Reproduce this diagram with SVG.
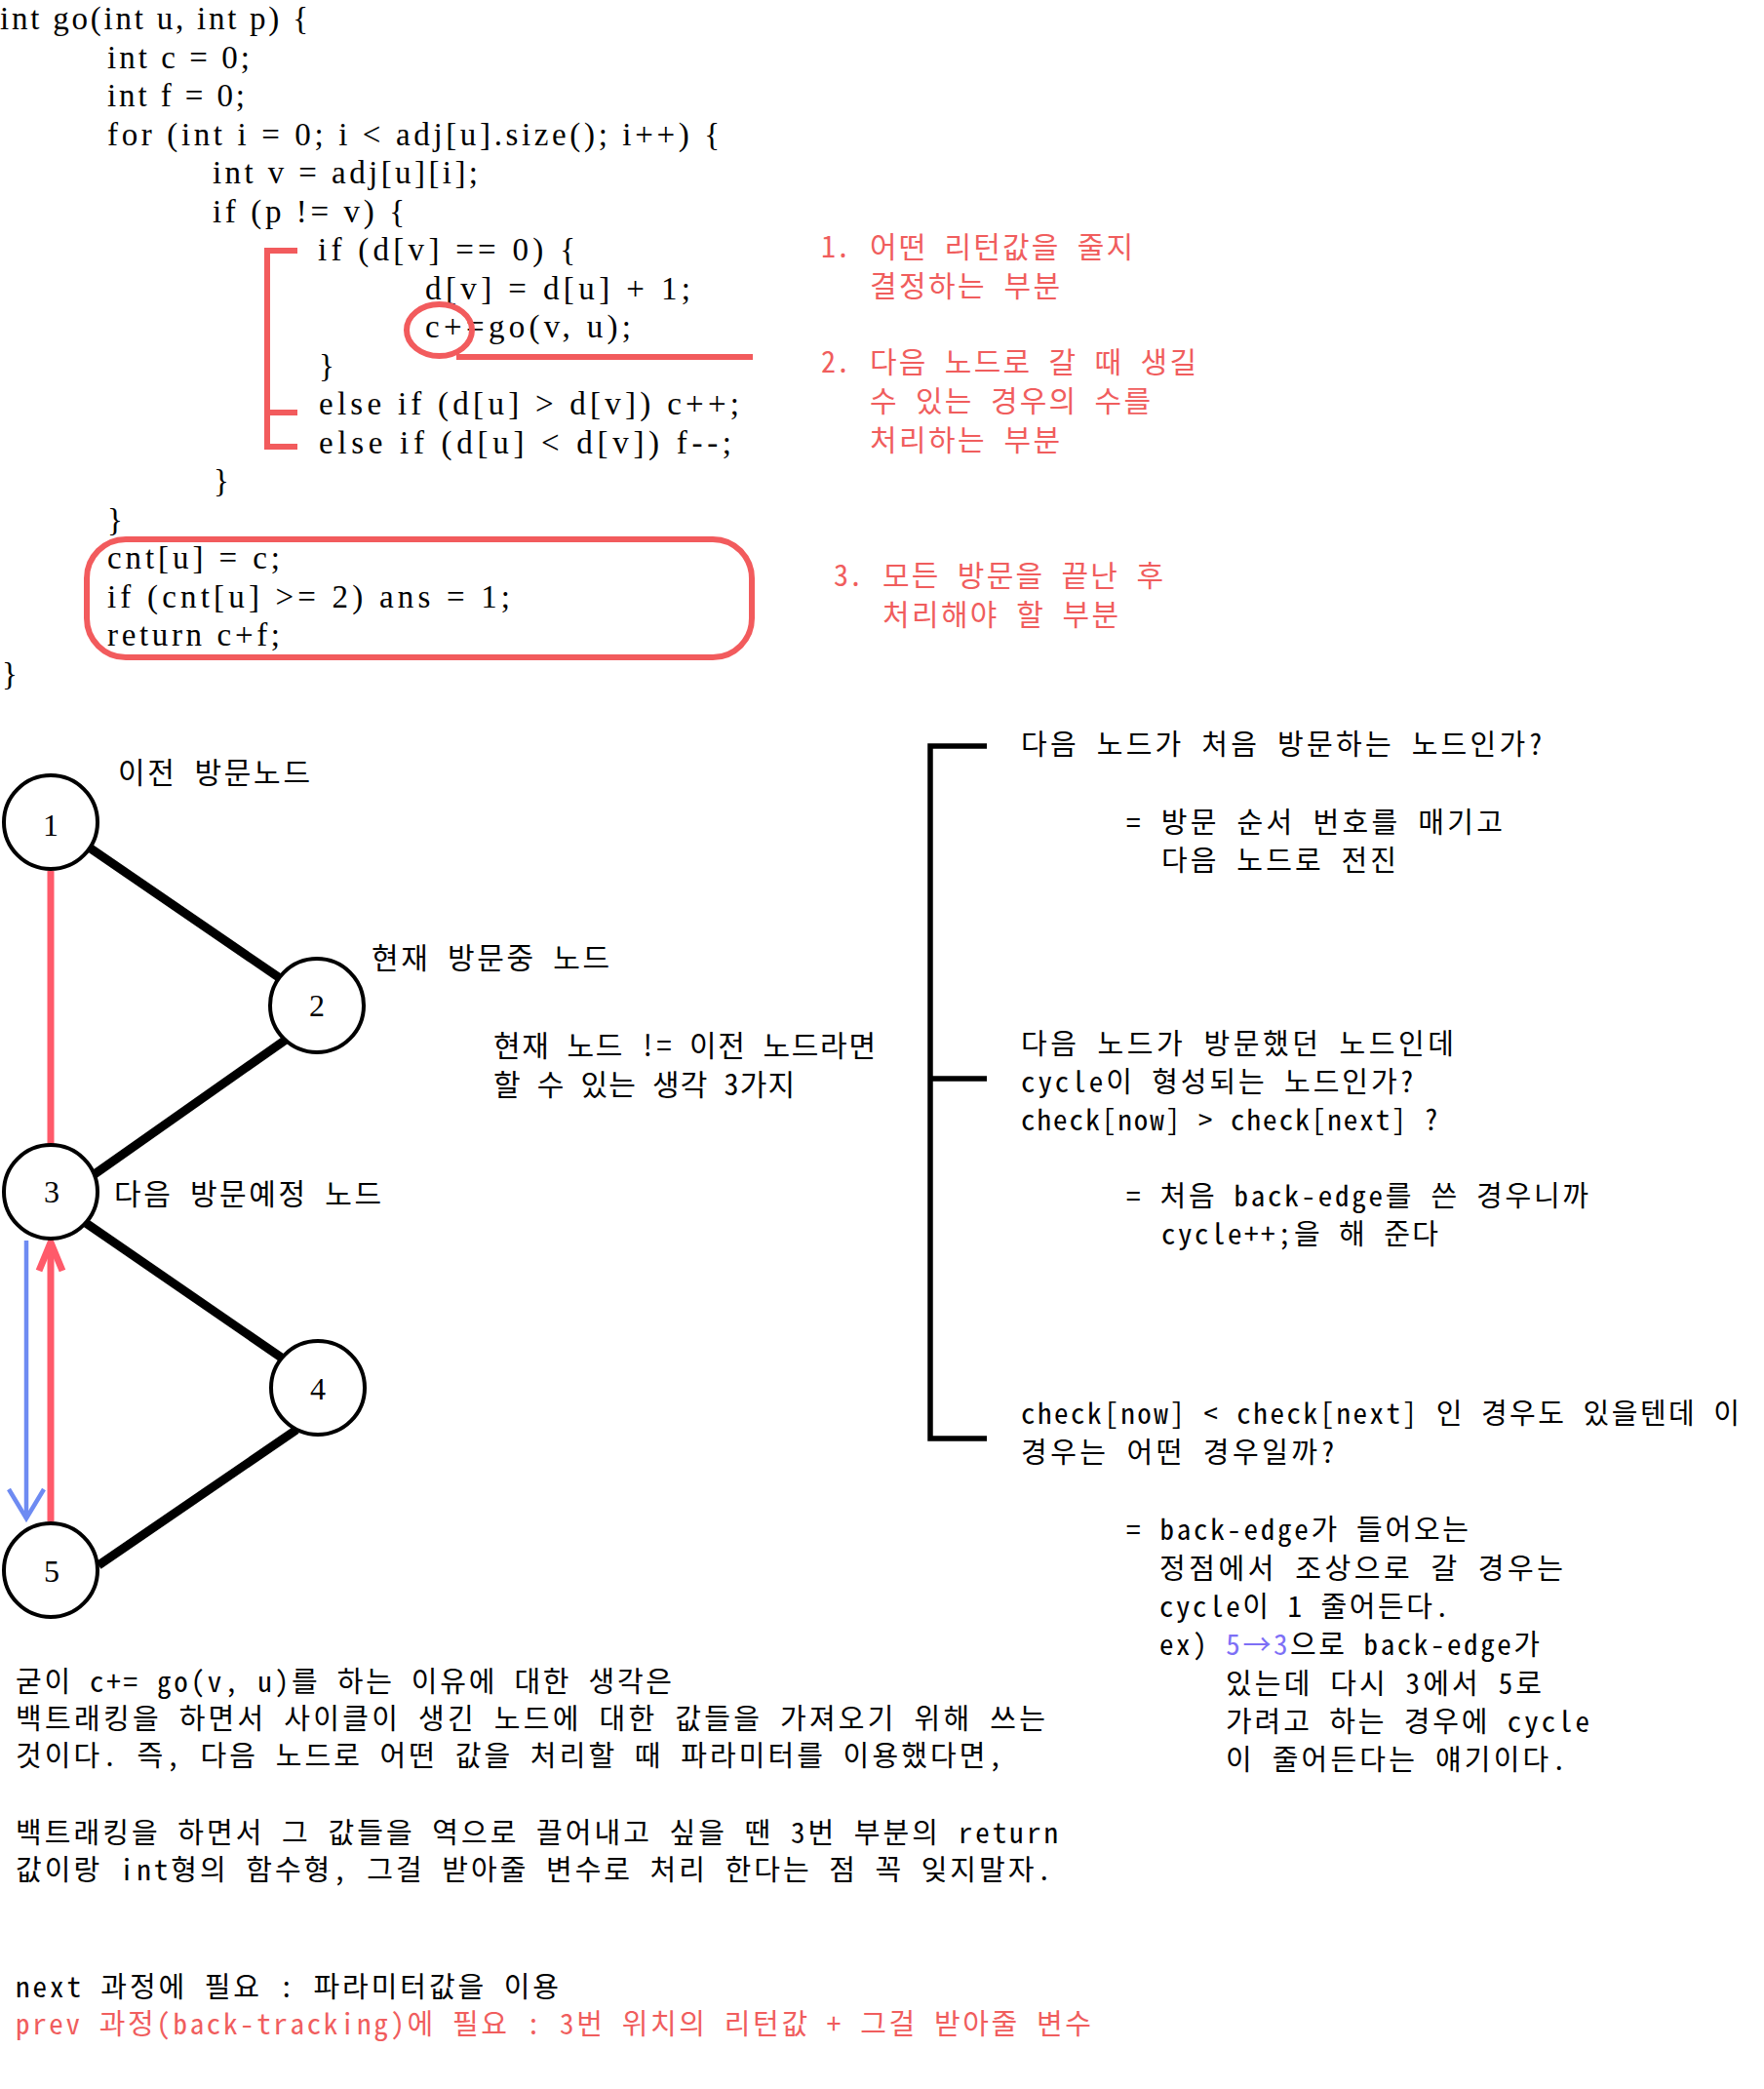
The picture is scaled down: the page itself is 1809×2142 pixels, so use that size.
<svg xmlns="http://www.w3.org/2000/svg" width="1809" height="2142" viewBox="0 0 1809 2142">
<style>
.code{font-family:"Liberation Serif","Times New Roman",serif;font-size:33px;fill:#000}
.ko{font-family:"Noto Sans Mono CJK KR","DejaVu Sans Mono","Noto Sans CJK KR",monospace;font-size:29px;fill:#000}
.big{font-size:30px}
.red{fill:#f05d5d}
.blue{fill:#7d6ff6}
.mark{fill:none;stroke:#f25b5d;stroke-width:6}
.edge{stroke:#000;stroke-width:9;fill:none}
.node circle{fill:#fff;stroke:#000;stroke-width:4}
.num{font-family:"Liberation Serif","Times New Roman",serif;font-size:32px;text-anchor:middle;fill:#000}
.brk{fill:none;stroke:#000;stroke-width:5.5}
</style>
<defs>
<marker id="ahBlue" markerUnits="userSpaceOnUse" viewBox="-40 -25 50 50" refX="0" refY="0" markerWidth="50" markerHeight="50" orient="auto" overflow="visible">
<path d="M-30,-18 L0,0 L-30,18" fill="none" stroke="#6e8bf2" stroke-width="4.5"/>
</marker>
<marker id="ahRed" markerUnits="userSpaceOnUse" viewBox="-40 -25 50 50" refX="0" refY="0" markerWidth="50" markerHeight="50" orient="auto" overflow="visible">
<path d="M-29,-12 L0,0 L-29,12" fill="none" stroke="#ff5a6a" stroke-width="7"/>
</marker>
</defs>
<rect width="1809" height="2142" fill="#fff"/>

<g id="code">
<text class="code" x="0" y="30" textLength="316">int go(int u, int p) {</text>
<text class="code" x="110" y="69.5" textLength="146">int c = 0;</text>
<text class="code" x="110" y="109" textLength="141">int f = 0;</text>
<text class="code" x="110" y="148.5" textLength="628">for (int i = 0; i &lt; adj[u].size(); i++) {</text>
<text class="code" x="218" y="188" textLength="272">int v = adj[u][i];</text>
<text class="code" x="218" y="227.5" textLength="197">if (p != v) {</text>
<text class="code" x="326" y="267" textLength="264">if (d[v] == 0) {</text>
<text class="code" x="436" y="306.5" textLength="272">d[v] = d[u] + 1;</text>
<text class="code" x="436" y="346" textLength="211">c+=go(v, u);</text>
<text class="code" x="327" y="385.5">}</text>
<text class="code" x="327" y="425" textLength="431">else if (d[u] &gt; d[v]) c++;</text>
<text class="code" x="327" y="464.5" textLength="423">else if (d[u] &lt; d[v]) f--;</text>
<text class="code" x="219" y="504">}</text>
<text class="code" x="110" y="543.5">}</text>
<text class="code" x="110" y="583" textLength="177">cnt[u] = c;</text>
<text class="code" x="110" y="622.5" textLength="413">if (cnt[u] &gt;= 2) ans = 1;</text>
<text class="code" x="110" y="662" textLength="177">return c+f;</text>
<text class="code" x="2" y="701.5">}</text>
</g>

<g id="code-marks">
<path class="mark" d="M305,257 H274 V458 H305 M274,423 H305"/>
<ellipse class="mark" cx="450.5" cy="338.5" rx="33.5" ry="26.5"/>
<path class="mark" d="M468,366 H772"/>
<rect class="mark" x="89" y="553" width="682" height="121" rx="40" ry="40"/>
</g>

<g id="annotations">
<text class="ko big red" x="842" y="264">1.</text>
<text class="ko big red" x="892" y="264" textLength="270">어떤 리턴값을 줄지</text>
<text class="ko big red" x="892" y="304" textLength="195">결정하는 부분</text>
<text class="ko big red" x="842" y="382">2.</text>
<text class="ko big red" x="892" y="382" textLength="335">다음 노드로 갈 때 생길</text>
<text class="ko big red" x="892" y="422" textLength="288">수 있는 경우의 수를</text>
<text class="ko big red" x="892" y="462" textLength="195">처리하는 부분</text>
<text class="ko big red" x="855" y="601">3.</text>
<text class="ko big red" x="905" y="601" textLength="288">모든 방문을 끝난 후</text>
<text class="ko big red" x="905" y="641" textLength="242">처리해야 할 부분</text>
</g>

<g id="connectors">
<line x1="52" y1="893" x2="52" y2="1173" stroke="#ff5a6a" stroke-width="7"/>
<line class="edge" x1="90" y1="868" x2="290" y2="1005"/>
<line class="edge" x1="296" y1="1064" x2="94" y2="1206"/>
<line class="edge" x1="88" y1="1254" x2="290" y2="1393"/>
<line class="edge" x1="304" y1="1466" x2="101" y2="1605"/>
<line x1="27" y1="1272" x2="27" y2="1557" stroke="#6e8bf2" stroke-width="4.5" marker-end="url(#ahBlue)"/>
<line x1="52" y1="1560" x2="52" y2="1274" stroke="#ff5a6a" stroke-width="7" marker-end="url(#ahRed)"/>
</g>

<g id="node1" class="node"><circle cx="52" cy="843" r="48"/><text class="num" x="52" y="857">1</text></g>
<g id="node2" class="node"><circle cx="325" cy="1031" r="48"/><text class="num" x="325" y="1042">2</text></g>
<g id="node3" class="node"><circle cx="52" cy="1222" r="48"/><text class="num" x="53" y="1233">3</text></g>
<g id="node4" class="node"><circle cx="326" cy="1423" r="48"/><text class="num" x="326" y="1435">4</text></g>
<g id="node5" class="node"><circle cx="52" cy="1610" r="48"/><text class="num" x="53" y="1622">5</text></g>

<g id="graph-labels">
<text class="ko big" x="121" y="803" textLength="197">이전 방문노드</text>
<text class="ko big" x="381" y="993" textLength="244">현재 방문중 노드</text>
<text class="ko big" x="117" y="1235" textLength="274">다음 방문예정 노드</text>
<text class="ko big" x="506" y="1083" textLength="392">현재 노드 != 이전 노드라면</text>
<text class="ko big" x="506" y="1123" textLength="309">할 수 있는 생각 3가지</text>
</g>

<g id="cases">
<path class="brk" d="M1012,765 H954 V1475 H1012 M954,1106 H1012"/>
<text class="ko" x="1047" y="774" textLength="535">다음 노드가 처음 방문하는 노드인가?</text>
<text class="ko" x="1155" y="854" textLength="386">= 방문 순서 번호를 매기고</text>
<text class="ko" x="1191" y="893" textLength="241">다음 노드로 전진</text>
<text class="ko" x="1047" y="1081" textLength="444">다음 노드가 방문했던 노드인데</text>
<text class="ko" x="1047" y="1120" textLength="403">cycle이 형성되는 노드인가?</text>
<text class="ko" x="1047" y="1159" textLength="428">check[now] &gt; check[next] ?</text>
<text class="ko" x="1155" y="1237" textLength="474">= 처음 back-edge를 쓴 경우니까</text>
<text class="ko" x="1191" y="1276" textLength="284">cycle++;을 해 준다</text>
<text class="ko" x="1047" y="1460" textLength="737">check[now] &lt; check[next] 인 경우도 있을텐데 이</text>
<text class="ko" x="1047" y="1500" textLength="322">경우는 어떤 경우일까?</text>
<text class="ko" x="1155" y="1579" textLength="351">= back-edge가 들어오는</text>
<text class="ko" x="1189" y="1619" textLength="414">정점에서 조상으로 갈 경우는</text>
<text class="ko" x="1189" y="1658" textLength="297">cycle이 1 줄어든다.</text>
<text class="ko" x="1189" y="1697" textLength="390">ex) <tspan class="blue">5→3</tspan>으로 back-edge가</text>
<text class="ko" x="1257" y="1737" textLength="324">있는데 다시 3에서 5로</text>
<text class="ko" x="1257" y="1776" textLength="373">가려고 하는 경우에 cycle</text>
<text class="ko" x="1257" y="1815" textLength="349">이 줄어든다는 얘기이다.</text>
</g>

<g id="notes">
<text class="ko" x="16" y="1735" textLength="673">굳이 c+= go(v, u)를 하는 이유에 대한 생각은</text>
<text class="ko" x="16" y="1773" textLength="1056">백트래킹을 하면서 사이클이 생긴 노드에 대한 값들을 가져오기 위해 쓰는</text>
<text class="ko" x="16" y="1811" textLength="1012">것이다. 즉, 다음 노드로 어떤 값을 처리할 때 파라미터를 이용했다면,</text>
<text class="ko" x="16" y="1890" textLength="1069">백트래킹을 하면서 그 값들을 역으로 끌어내고 싶을 땐 3번 부분의 return</text>
<text class="ko" x="16" y="1928" textLength="1062">값이랑 int형의 함수형, 그걸 받아줄 변수로 처리 한다는 점 꼭 잊지말자.</text>
<text class="ko" x="16" y="2048" textLength="557">next 과정에 필요 : 파라미터값을 이용</text>
<text class="ko red" x="16" y="2086" textLength="1103">prev 과정(back-tracking)에 필요 : 3번 위치의 리턴값 + 그걸 받아줄 변수</text>
</g>
</svg>
